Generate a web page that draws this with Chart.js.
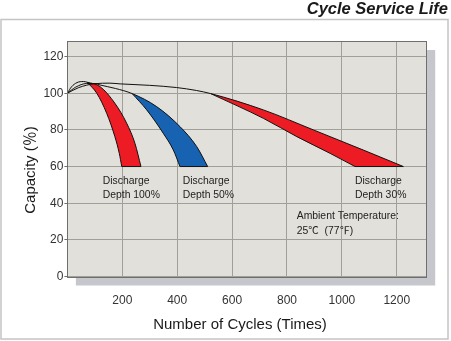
<!DOCTYPE html>
<html>
<head>
<meta charset="utf-8">
<script src="https://cdn.jsdelivr.net/npm/chart.js@4.4.1/dist/chart.umd.min.js"></script>
<style>
  html, body { margin: 0; padding: 0; background: #fff; }
  #wrap { width: 451px; height: 341px; position: relative; }
</style>
</head>
<body>
<div id="wrap"><canvas id="c" width="451" height="341"></canvas></div>
<script>
// Axis ticks
const cycleTicks = [200, 400, 600, 800, 1000, 1200];
const capacityTicks = [0, 20, 40, 60, 80, 100, 120];

// Capacity curves, [cycles, capacity %].
// "path" runs from the start through the upper edge of each band;
// "inner" is the lower edge of the band, from its apex to the 60 % floor.
const path100 = [[0, 100], [15, 103.5], [35, 105.8], [58, 106.4], [72, 106], [119, 103.6], [173, 94.5], [216, 83.6], [246, 72.7], [268, 60]];
const inner100 = [[72, 106], [107, 100], [143, 89.1], [173, 76.3], [189, 67.2], [198, 60]];

const path50 = [[0, 100], [30, 103.3], [70, 105.3], [100, 105.3], [119, 104.5], [175, 102.6], [236, 99.8], [325, 92.7], [410, 81.8], [471, 70.9], [511, 60]];
const inner50 = [[236, 99.8], [289, 90.9], [349, 78.2], [386, 69], [410, 60]];

const path30 = [[0, 100], [40, 103], [100, 105.2], [155, 105.5], [192, 105.1], [300, 104.3], [398, 103.1], [470, 101.5], [522, 99.8], [714, 90.9], [896, 80], [1078, 69], [1224, 60]];
const inner30 = [[522, 99.8], [714, 86.3], [836, 76.3], [957, 67.2], [1048, 60]];

const depthLabels = [['Discharge', 'Depth 100%'], ['Discharge', 'Depth 50%'], ['Discharge', 'Depth 30%']];
const ambientLabel = ['Ambient Temperature:', '25\u2103  (77\u2109)'];
const chartTitle = 'Cycle Service Life';
const xTitle = 'Number of Cycles (Times)';
const yTitle = 'Capacity (\uFF05)';

const RED = '#ed1c24';
const BLUE = '#1763b2';

const toXY = arr => arr.map(([x, y]) => ({ x, y }));
const apexIndex = (path, inner) => path.findIndex(p => p[0] === inner[0][0]);

// Each band = inner edge, path (upper edge), and the 60 % floor between their ends.
const bands = [];
const datasets = [];
function addBand(path, inner, color) {
  const floor = [inner[inner.length - 1], path[path.length - 1]];
  const common = { borderColor: '#111', borderWidth: 1, pointRadius: 0, fill: false, cubicInterpolationMode: 'monotone' };
  const innerIdx = datasets.length;
  datasets.push({ ...common, data: toXY(inner) });
  datasets.push({ ...common, data: toXY(path) });
  datasets.push({ ...common, data: toXY(floor) });
  bands.push({ innerIdx, pathIdx: innerIdx + 1, apex: apexIndex(path, inner), color });
}
addBand(path30, inner30, RED);
addBand(path50, inner50, BLUE);
addBand(path100, inner100, RED);

// Fills each band with the line elements' own curves: upper edge from the
// apex down to the floor, then the inner edge back up.
const bandFill = {
  id: 'bandFill',
  beforeDatasetsDraw(chart) {
    const { ctx, chartArea: a } = chart;
    ctx.save();
    ctx.beginPath();
    ctx.rect(a.left, a.top, a.right - a.left, a.bottom - a.top);
    ctx.clip();
    bands.forEach(b => {
      const upper = chart.getDatasetMeta(b.pathIdx).dataset;
      const lower = chart.getDatasetMeta(b.innerIdx).dataset;
      upper.updateControlPoints(a, 'x');
      lower.updateControlPoints(a, 'x');
      const nu = upper.points.length, nl = lower.points.length;
      ctx.beginPath();
      upper.pathSegment(ctx, { start: 0, end: nu - 1, loop: false }, { start: b.apex, move: true });
      lower.pathSegment(ctx, { start: 0, end: nl - 1, loop: false }, { move: false, reverse: true });
      ctx.closePath();
      ctx.fillStyle = b.color;
      ctx.fill();
    });
    ctx.restore();
  }
};

const FONT = "'Liberation Sans', 'Noto Sans CJK JP', sans-serif";

const decor = {
  id: 'decor',
  beforeDraw(chart) {
    const { ctx, chartArea: a } = chart;
    ctx.save();
    ctx.fillStyle = '#fff';
    ctx.fillRect(0, 0, chart.width, chart.height);
    // outer frame
    ctx.strokeStyle = '#c4c4c4';
    ctx.lineWidth = 1.5;
    ctx.strokeRect(1, 19.5, 447, 319.5);
    // title
    ctx.fillStyle = '#1a1a1a';
    ctx.font = "italic bold 16.5px " + FONT;
    ctx.textAlign = 'right';
    ctx.textBaseline = 'alphabetic';
    ctx.fillText(chartTitle, 448, 14);
    // drop shadow and plot background
    ctx.fillStyle = '#c6c7cc';
    ctx.fillRect(a.left + 8.5, a.top + 9, a.right - a.left, a.bottom - a.top);
    ctx.fillStyle = '#e2e0da';
    ctx.fillRect(a.left, a.top, a.right - a.left, a.bottom - a.top);
    ctx.restore();
  },
  afterDraw(chart) {
    const { ctx, chartArea: a } = chart;
    ctx.save();
    ctx.strokeStyle = '#6f6f6f';
    ctx.lineWidth = 1;
    ctx.strokeRect(Math.round(a.left) + 0.5, Math.round(a.top) + 0.5, Math.round(a.right - a.left), Math.round(a.bottom - a.top));

    ctx.fillStyle = '#222';
    ctx.textAlign = 'left';
    ctx.textBaseline = 'alphabetic';
    ctx.font = '10.4px ' + FONT;
    const lx = [102.7, 182.7, 355];
    depthLabels.forEach((lines, i) => {
      ctx.fillText(lines[0], lx[i], 184);
      ctx.fillText(lines[1], lx[i], 197.7);
    });
    ctx.fillText(ambientLabel[0], 296.7, 219);
    ctx.fillText(ambientLabel[1], 296.7, 234.3);

    // axis titles
    ctx.fillStyle = '#1a1a1a';
    ctx.font = '15px ' + FONT;
    ctx.textAlign = 'center';
    ctx.fillText(xTitle, 240, 328.5);
    ctx.translate(34.5, 170);
    ctx.rotate(-Math.PI / 2);
    ctx.fillText(yTitle, 0, 0);
    ctx.restore();
  }
};

new Chart(document.getElementById('c'), {
  type: 'line',
  data: { datasets },
  options: {
    responsive: false,
    animation: false,
    layout: { padding: { top: 41, right: 24.3, left: 0, bottom: 0 } },
    plugins: {
      legend: { display: false },
      tooltip: { enabled: false }
    },
    scales: {
      x: {
        type: 'linear',
        min: 0,
        max: 1309,
        afterFit: s => { s.height = 64.5; },
        afterBuildTicks: s => { s.ticks = [0, ...cycleTicks].map(v => ({ value: v })); },
        grid: { color: '#a19f9a', lineWidth: 1, drawTicks: false },
        border: { display: false },
        ticks: {
          padding: 17,
          color: '#333',
          font: { family: FONT, size: 12 },
          maxRotation: 0,
          autoSkip: false,
          callback: v => (cycleTicks.includes(v) ? String(v) : '')
        }
      },
      y: {
        min: 0,
        max: 128.5,
        afterFit: s => { s.width = 67.4; },
        afterBuildTicks: s => { s.ticks = capacityTicks.map(v => ({ value: v })); },
        grid: { color: '#a19f9a', lineWidth: 1, tickLength: 3, tickColor: '#6f6f6f' },
        border: { display: false },
        ticks: {
          padding: 1,
          color: '#333',
          font: { family: FONT, size: 12 },
          autoSkip: false,
          callback: v => String(v)
        }
      }
    }
  },
  plugins: [bandFill, decor]
});
</script>
</body>
</html>
